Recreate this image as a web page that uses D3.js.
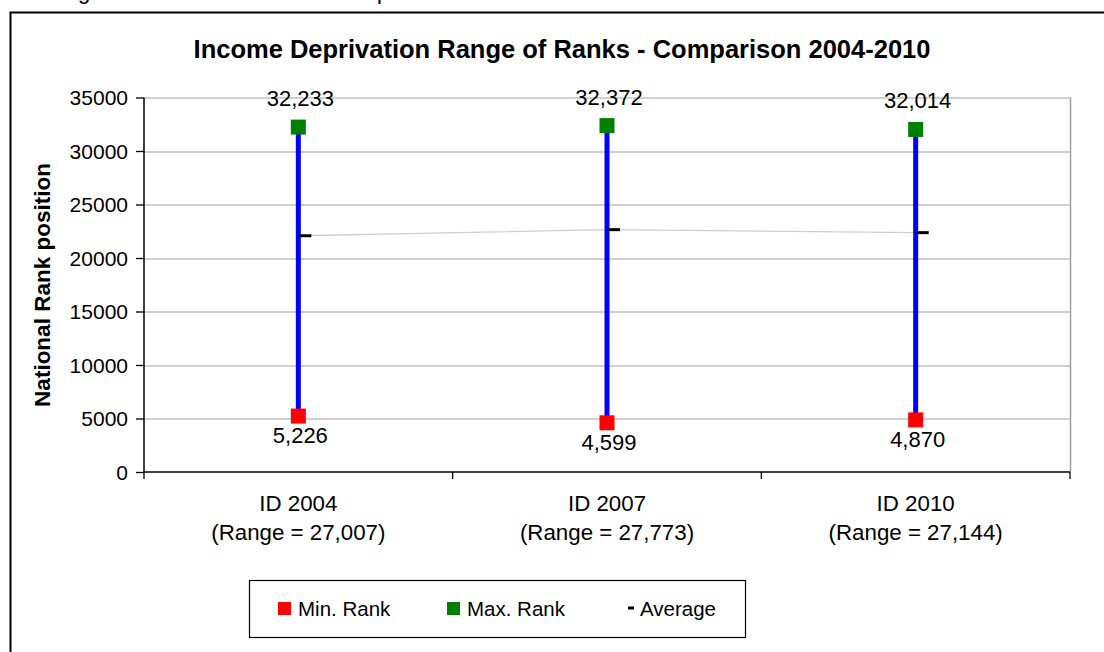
<!DOCTYPE html>
<html>
<head>
<meta charset="utf-8">
<script src="https://cdn.jsdelivr.net/npm/d3@7"></script>
<style>
  body { margin: 0; background: #fff; }
  svg { display: block; font-family: "Liberation Sans", Arial, sans-serif; }
</style>
</head>
<body>
<svg id="chart" width="1104" height="652"></svg>
<script>
// data
var categories = ["ID 2004", "ID 2007", "ID 2010"];
var rangeLabels = ["(Range = 27,007)", "(Range = 27,773)", "(Range = 27,144)"];
var minRank = [5226, 4599, 4870];
var maxRank = [32233, 32372, 32014];
var average = [22080, 22650, 22370];
var yTicks = [0, 5000, 10000, 15000, 20000, 25000, 30000, 35000];

var svg = d3.select("#chart");
var margin = {top: 97.5, right: 34, bottom: 180, left: 144};
var width = 1104 - margin.left - margin.right,
    height = 652 - margin.top - margin.bottom;

// bits of the page text above the chart, cut off
svg.append("text").attr("x", 78).attr("y", -1).attr("font-size", 22).text("g");
svg.append("text").attr("x", 377).attr("y", -1).attr("font-size", 22).text("p");

// outer chart frame (only top and left show)
svg.append("rect")
    .attr("x", 10.5).attr("y", 12.5)
    .attr("width", 1200).attr("height", 800)
    .attr("fill", "none").attr("stroke", "#000").attr("stroke-width", 2);

svg.append("text")
    .attr("x", 562).attr("y", 58)
    .attr("text-anchor", "middle")
    .attr("font-size", 25.5).attr("font-weight", "bold")
    .text("Income Deprivation Range of Ranks - Comparison 2004-2010");

var g = svg.append("g").attr("transform", "translate(" + margin.left + "," + margin.top + ")");

var x = d3.scaleBand().domain(categories).range([0, width]).padding(0);
var y = d3.scaleLinear().domain([0, 35000]).range([height, 0]);
var cx = function(i) { return x(categories[i]) + x.bandwidth() / 2; };

// gridlines
g.append("g")
    .selectAll("line")
    .data(yTicks.slice(1))
    .enter().append("line")
    .attr("x1", 0).attr("x2", width)
    .attr("y1", function(d) { return Math.round(y(d)) + 0.5; })
    .attr("y2", function(d) { return Math.round(y(d)) + 0.5; })
    .attr("stroke", "#c0c0c0").attr("stroke-width", 1.3);

// plot border right side
g.append("line")
    .attr("x1", width + 0.5).attr("x2", width + 0.5)
    .attr("y1", 0).attr("y2", height)
    .attr("stroke", "#a0a0a0").attr("stroke-width", 1.5);

// y axis
var yAxis = g.append("g")
    .call(d3.axisLeft(y).tickValues(yTicks).tickSize(8).tickPadding(8).tickFormat(d3.format("d")));
yAxis.selectAll("text").attr("font-size", 21).attr("fill", "#000")
    .attr("font-family", "Liberation Sans, Arial, sans-serif").attr("dy", "0.34em");
yAxis.selectAll("line").attr("stroke", "#000").attr("stroke-width", 1.3);
yAxis.select(".domain").attr("stroke", "#000").attr("stroke-width", 1.5).attr("d", "M0,0V" + height);

// x axis with ticks at band edges
var xAxis = g.append("g").attr("transform", "translate(0," + height + ")");
xAxis.append("line").attr("x1", 0).attr("x2", width).attr("y1", 0).attr("y2", 0)
    .attr("stroke", "#000").attr("stroke-width", 1.5);
xAxis.selectAll(".tk")
    .data(categories.concat(["end"]))
    .enter().append("line")
    .attr("x1", function(d, i) { return i * x.bandwidth(); })
    .attr("x2", function(d, i) { return i * x.bandwidth(); })
    .attr("y1", 0).attr("y2", 7)
    .attr("stroke", "#000").attr("stroke-width", 1.3);

var catLab = xAxis.selectAll(".cat")
    .data(categories)
    .enter().append("text")
    .attr("text-anchor", "middle")
    .attr("font-size", 22.3);
catLab.append("tspan")
    .attr("x", function(d, i) { return cx(i); }).attr("y", 39)
    .text(function(d) { return d; });
catLab.append("tspan")
    .attr("x", function(d, i) { return cx(i); }).attr("y", 68)
    .text(function(d, i) { return rangeLabels[i]; });

// y axis title
svg.append("text")
    .attr("transform", "translate(50,285) rotate(-90)")
    .attr("text-anchor", "middle")
    .attr("font-size", 22.5).attr("font-weight", "bold")
    .text("National Rank position");

// average connecting line
g.append("path")
    .datum(average)
    .attr("fill", "none").attr("stroke", "#cfcfcf").attr("stroke-width", 1.3)
    .attr("d", d3.line().x(function(d, i) { return cx(i); }).y(function(d) { return y(d); }));

// range lines
g.selectAll(".rng")
    .data(categories)
    .enter().append("line")
    .attr("x1", function(d, i) { return cx(i); })
    .attr("x2", function(d, i) { return cx(i); })
    .attr("y1", function(d, i) { return y(minRank[i]); })
    .attr("y2", function(d, i) { return y(maxRank[i]); })
    .attr("stroke", "#0000ff").attr("stroke-width", 5);

// average dash
g.selectAll(".avg")
    .data(average)
    .enter().append("line")
    .attr("x1", function(d, i) { return cx(i); })
    .attr("x2", function(d, i) { return cx(i) + 13; })
    .attr("y1", function(d) { return y(d); })
    .attr("y2", function(d) { return y(d); })
    .attr("stroke", "#000").attr("stroke-width", 3);

var sz = 15;
g.selectAll(".mx")
    .data(maxRank)
    .enter().append("rect")
    .attr("x", function(d, i) { return cx(i) - sz / 2; })
    .attr("y", function(d) { return y(d) - sz / 2; })
    .attr("width", sz).attr("height", sz)
    .attr("fill", "#008000");
g.selectAll(".mn")
    .data(minRank)
    .enter().append("rect")
    .attr("x", function(d, i) { return cx(i) - sz / 2; })
    .attr("y", function(d) { return y(d) - sz / 2; })
    .attr("width", sz).attr("height", sz)
    .attr("fill", "#ff0000");

var fmt = d3.format(",");
g.selectAll(".mxl")
    .data(maxRank)
    .enter().append("text")
    .attr("x", function(d, i) { return cx(i) + 2; })
    .attr("y", function(d) { return y(d) - 21; })
    .attr("text-anchor", "middle").attr("font-size", 22)
    .text(function(d) { return fmt(d); });
g.selectAll(".mnl")
    .data(minRank)
    .enter().append("text")
    .attr("x", function(d, i) { return cx(i) + 2; })
    .attr("y", function(d) { return y(d) + 27; })
    .attr("text-anchor", "middle").attr("font-size", 22)
    .text(function(d) { return fmt(d); });

// legend
var lg = svg.append("g");
lg.append("rect")
    .attr("x", 249.5).attr("y", 580.5).attr("width", 496).attr("height", 57)
    .attr("fill", "#fff").attr("stroke", "#000").attr("stroke-width", 1.2);
lg.append("rect").attr("x", 278).attr("y", 602).attr("width", 13).attr("height", 13).attr("fill", "#ff0000");
lg.append("text").attr("x", 298).attr("y", 616).attr("font-size", 20.5).text("Min. Rank");
lg.append("rect").attr("x", 447).attr("y", 602).attr("width", 13).attr("height", 13).attr("fill", "#008000");
lg.append("text").attr("x", 467).attr("y", 616).attr("font-size", 20.5).text("Max. Rank");
lg.append("line").attr("x1", 628).attr("x2", 634).attr("y1", 608).attr("y2", 608)
    .attr("stroke", "#000").attr("stroke-width", 3);
lg.append("text").attr("x", 640).attr("y", 616).attr("font-size", 20.5).text("Average");
</script>
</body>
</html>
